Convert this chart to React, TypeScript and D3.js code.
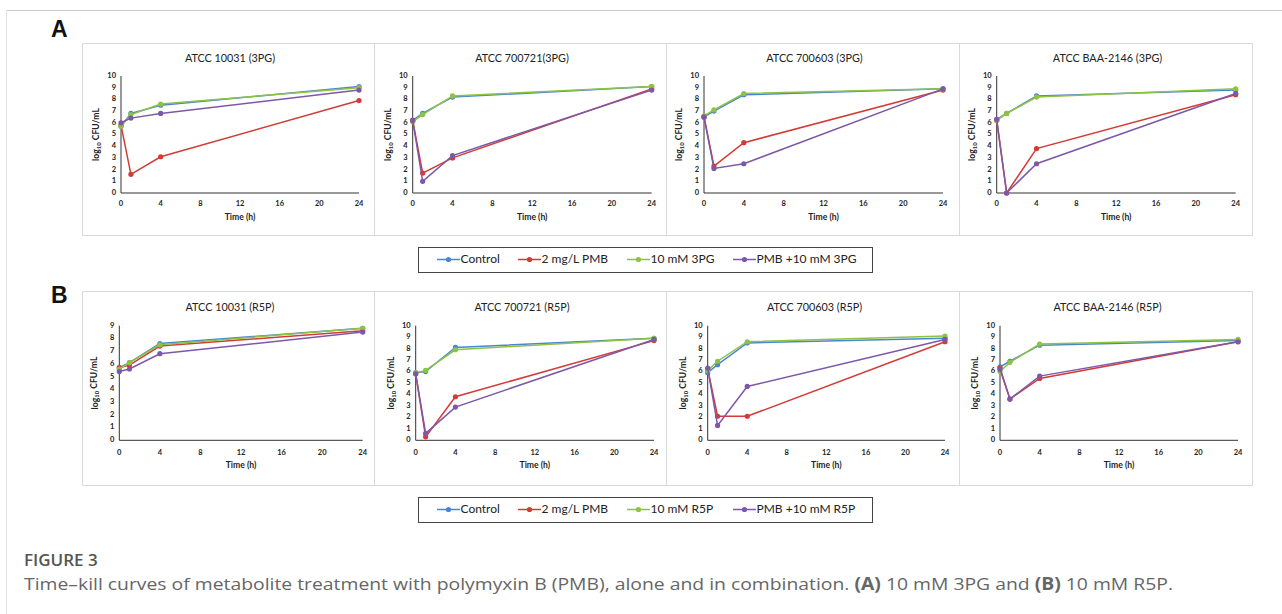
import React from "react";
import * as d3 from "d3";

const times = [0, 1, 4, 24];
const xTicks = [0, 4, 8, 12, 16, 20, 24];
const seriesColors = ["#4A86D0", "#D23B36", "#8DC343", "#7D58A8"];

const titlesA = ["ATCC 10031 (3PG)", "ATCC 700721(3PG)", "ATCC 700603 (3PG)", "ATCC BAA-2146 (3PG)"];
const titlesB = ["ATCC 10031 (R5P)", "ATCC 700721 (R5P)", "ATCC 700603 (R5P)", "ATCC BAA-2146 (R5P)"];
const legendA = ["Control", "2 mg/L PMB", "10 mM 3PG", "PMB +10 mM 3PG"];
const legendB = ["Control", "2 mg/L PMB", "10 mM R5P", "PMB +10 mM R5P"];
const yMaxA = [10, 10, 10, 10];
const yMaxB = [9, 10, 10, 10];

// values per panel: [control, PMB, metabolite, PMB+metabolite]
const a1 = [[5.7, 6.8, 7.5, 9.1], [5.8, 1.6, 3.1, 7.9], [5.7, 6.7, 7.6, 9.0], [6.0, 6.4, 6.8, 8.8]];
const a2 = [[6.2, 6.8, 8.2, 9.1], [6.2, 1.7, 3.0, 8.9], [6.1, 6.7, 8.3, 9.1], [6.2, 1.0, 3.2, 8.8]];
const a3 = [[6.5, 7.0, 8.4, 8.9], [6.5, 2.3, 4.3, 8.8], [6.6, 7.1, 8.5, 8.9], [6.5, 2.1, 2.5, 8.9]];
const a4 = [[6.3, 6.8, 8.3, 8.8], [6.2, 0.0, 3.8, 8.4], [6.2, 6.8, 8.2, 8.9], [6.3, 0.0, 2.5, 8.5]];
const b1 = [[5.7, 6.1, 7.6, 8.8], [5.7, 5.9, 7.4, 8.6], [5.6, 6.1, 7.5, 8.8], [5.4, 5.6, 6.8, 8.5]];
const b2 = [[5.9, 6.0, 8.1, 8.9], [5.8, 0.3, 3.8, 8.7], [5.9, 6.1, 7.9, 8.9], [5.8, 0.6, 2.9, 8.8]];
const b3 = [[5.9, 6.6, 8.5, 8.9], [6.2, 2.1, 2.1, 8.6], [6.1, 6.9, 8.6, 9.1], [6.3, 1.3, 4.7, 8.8]];
const b4 = [[6.4, 6.9, 8.3, 8.7], [6.3, 3.6, 5.4, 8.6], [6.0, 6.8, 8.4, 8.8], [6.2, 3.6, 5.6, 8.6]];

const panelLefts = [82, 374, 666, 959];
const panelW = [292, 292, 293, 293];

type PanelProps = {
  left: number; width: number; top: number; bottom: number;
  axisX: number; axisX24: number; y0: number; yTop: number; yMax: number;
  title: string; titleY: number; tickY: number; labelY: number;
  data: number[][];
};

const CHART_FONT = "Lato, 'Open Sans', sans-serif";

function Panel(p: PanelProps) {
  const x = d3.scaleLinear().domain([0, 24]).range([p.axisX, p.axisX24]);
  const y = d3.scaleLinear().domain([0, p.yMax]).range([p.y0, p.yTop]);
  const line = d3.line<number>().x((_, i) => x(times[i])).y((v) => y(v));
  const yTicks = d3.range(0, p.yMax + 1);
  const midY = (p.y0 + p.yTop) / 2;
  return (
    <g>
      <rect x={p.left + 0.5} y={p.top + 0.5} width={p.width} height={p.bottom - p.top} fill="#fff" stroke="#d9d9d9" strokeWidth={1} />
      <text x={(p.left + p.width / 2) + 2} y={p.titleY} textAnchor="middle" dominantBaseline="middle" fontSize={10.8} fill="#222" fontFamily={CHART_FONT}>{p.title}</text>
      <line x1={p.axisX} x2={p.axisX} y1={p.yTop} y2={p.y0} stroke="#333" strokeWidth={1} />
      <line x1={p.axisX} x2={p.axisX24} y1={p.y0} y2={p.y0} stroke="#333" strokeWidth={1} />
      {yTicks.map((t) => (
        <text key={t} x={p.axisX - 5} y={y(t)} textAnchor="end" dominantBaseline="middle" fontSize={7.5} fontWeight={700} fill="#222" fontFamily={CHART_FONT}>{t}</text>
      ))}
      {xTicks.map((t) => (
        <text key={t} x={x(t)} y={p.tickY} textAnchor="middle" dominantBaseline="middle" fontSize={7.5} fontWeight={700} fill="#222" fontFamily={CHART_FONT}>{t}</text>
      ))}
      <text x={(p.axisX + p.axisX24) / 2} y={p.labelY} textAnchor="middle" dominantBaseline="middle" fontSize={8.6} fontWeight={700} fill="#222" fontFamily={CHART_FONT}>Time (h)</text>
      <text transform={`translate(${p.axisX - 24},${midY}) rotate(-90)`} textAnchor="middle" dominantBaseline="middle" fontSize={8.6} fontWeight={700} fill="#222" fontFamily={CHART_FONT}>
        log<tspan fontSize={6} dy={2}>10</tspan><tspan dy={-2}> CFU/mL</tspan>
      </text>
      {p.data.map((s, si) => (
        <g key={si}>
          <path d={line(s) || ""} fill="none" stroke={seriesColors[si]} strokeWidth={1.5} />
          {s.map((v, i) => (
            <circle key={i} cx={x(times[i])} cy={y(v)} r={2.6} fill={seriesColors[si]} />
          ))}
        </g>
      ))}
    </g>
  );
}

function Legend({ labels, top }: { labels: string[]; top: number }) {
  const lineStarts = [437, 518, 627, 733];
  const cy = top + 12.5;
  return (
    <g>
      <rect x={418.5} y={top + 0.5} width={454} height={25} fill="#fff" stroke="#444" strokeWidth={1} />
      {labels.map((l, i) => (
        <g key={l}>
          <line x1={lineStarts[i]} x2={lineStarts[i] + 23} y1={cy} y2={cy} stroke={seriesColors[i]} strokeWidth={1.5} />
          <circle cx={lineStarts[i] + 11.5} cy={cy} r={2.6} fill={seriesColors[i]} />
          <text x={lineStarts[i] + 23.5} y={cy} dominantBaseline="middle" fontSize={12} fill="#222" fontFamily={CHART_FONT}>{l}</text>
        </g>
      ))}
    </g>
  );
}

export default function App() {
  const dataA = [a1, a2, a3, a4];
  const dataB = [b1, b2, b3, b4];
  const axisA = [[121, 359], [412.7, 651.7], [704, 943], [996.7, 1235.7]];
  const axisB = [[119.3, 362.7], [415.7, 654], [707.7, 945], [1000, 1238]];
  return (
    <svg width={1282} height={614} style={{ position: "absolute", left: 0, top: 0 }}>
      <rect x={0} y={0} width={1282} height={614} fill="#fff" />
      <line x1={6} x2={1282} y1={10.5} y2={10.5} stroke="#c8c8c8" strokeWidth={1} />
      <line x1={6.5} x2={6.5} y1={10} y2={614} stroke="#e2e2e2" strokeWidth={1} />
      <text x={51} y={37} fontSize={23} fontWeight={700} fill="#111" fontFamily="'Liberation Sans', Arial, sans-serif">A</text>
      <text x={51} y={303} fontSize={23} fontWeight={700} fill="#111" fontFamily="'Liberation Sans', Arial, sans-serif">B</text>
      {dataA.map((d, i) => (
        <Panel key={"a" + i} left={panelLefts[i]} width={panelW[i]} top={43} bottom={235}
          axisX={axisA[i][0]} axisX24={axisA[i][1]} y0={193} yTop={76} yMax={yMaxA[i]}
          title={titlesA[i]} titleY={59} tickY={204} labelY={218} data={d} />
      ))}
      {dataB.map((d, i) => (
        <Panel key={"b" + i} left={panelLefts[i]} width={panelW[i]} top={291} bottom={485}
          axisX={axisB[i][0]} axisX24={axisB[i][1]} y0={440.3} yTop={325.7} yMax={yMaxB[i]}
          title={titlesB[i]} titleY={308} tickY={453} labelY={466} data={d} />
      ))}
      <Legend labels={legendA} top={247} />
      <Legend labels={legendB} top={497} />
      <text x={24} y={566} fontSize={17} fontWeight={600} fill="#555" fontFamily="'Open Sans', sans-serif">FIGURE 3</text>
      <text x={24} y={590} fontSize={17} fill="#666" fontFamily="'Open Sans', sans-serif" textLength={1149} lengthAdjust="spacingAndGlyphs">
        Time–kill curves of metabolite treatment with polymyxin B (PMB), alone and in combination. <tspan fontWeight={700}>(A)</tspan> 10 mM 3PG and <tspan fontWeight={700}>(B)</tspan> 10 mM R5P.
      </text>
    </svg>
  );
}
